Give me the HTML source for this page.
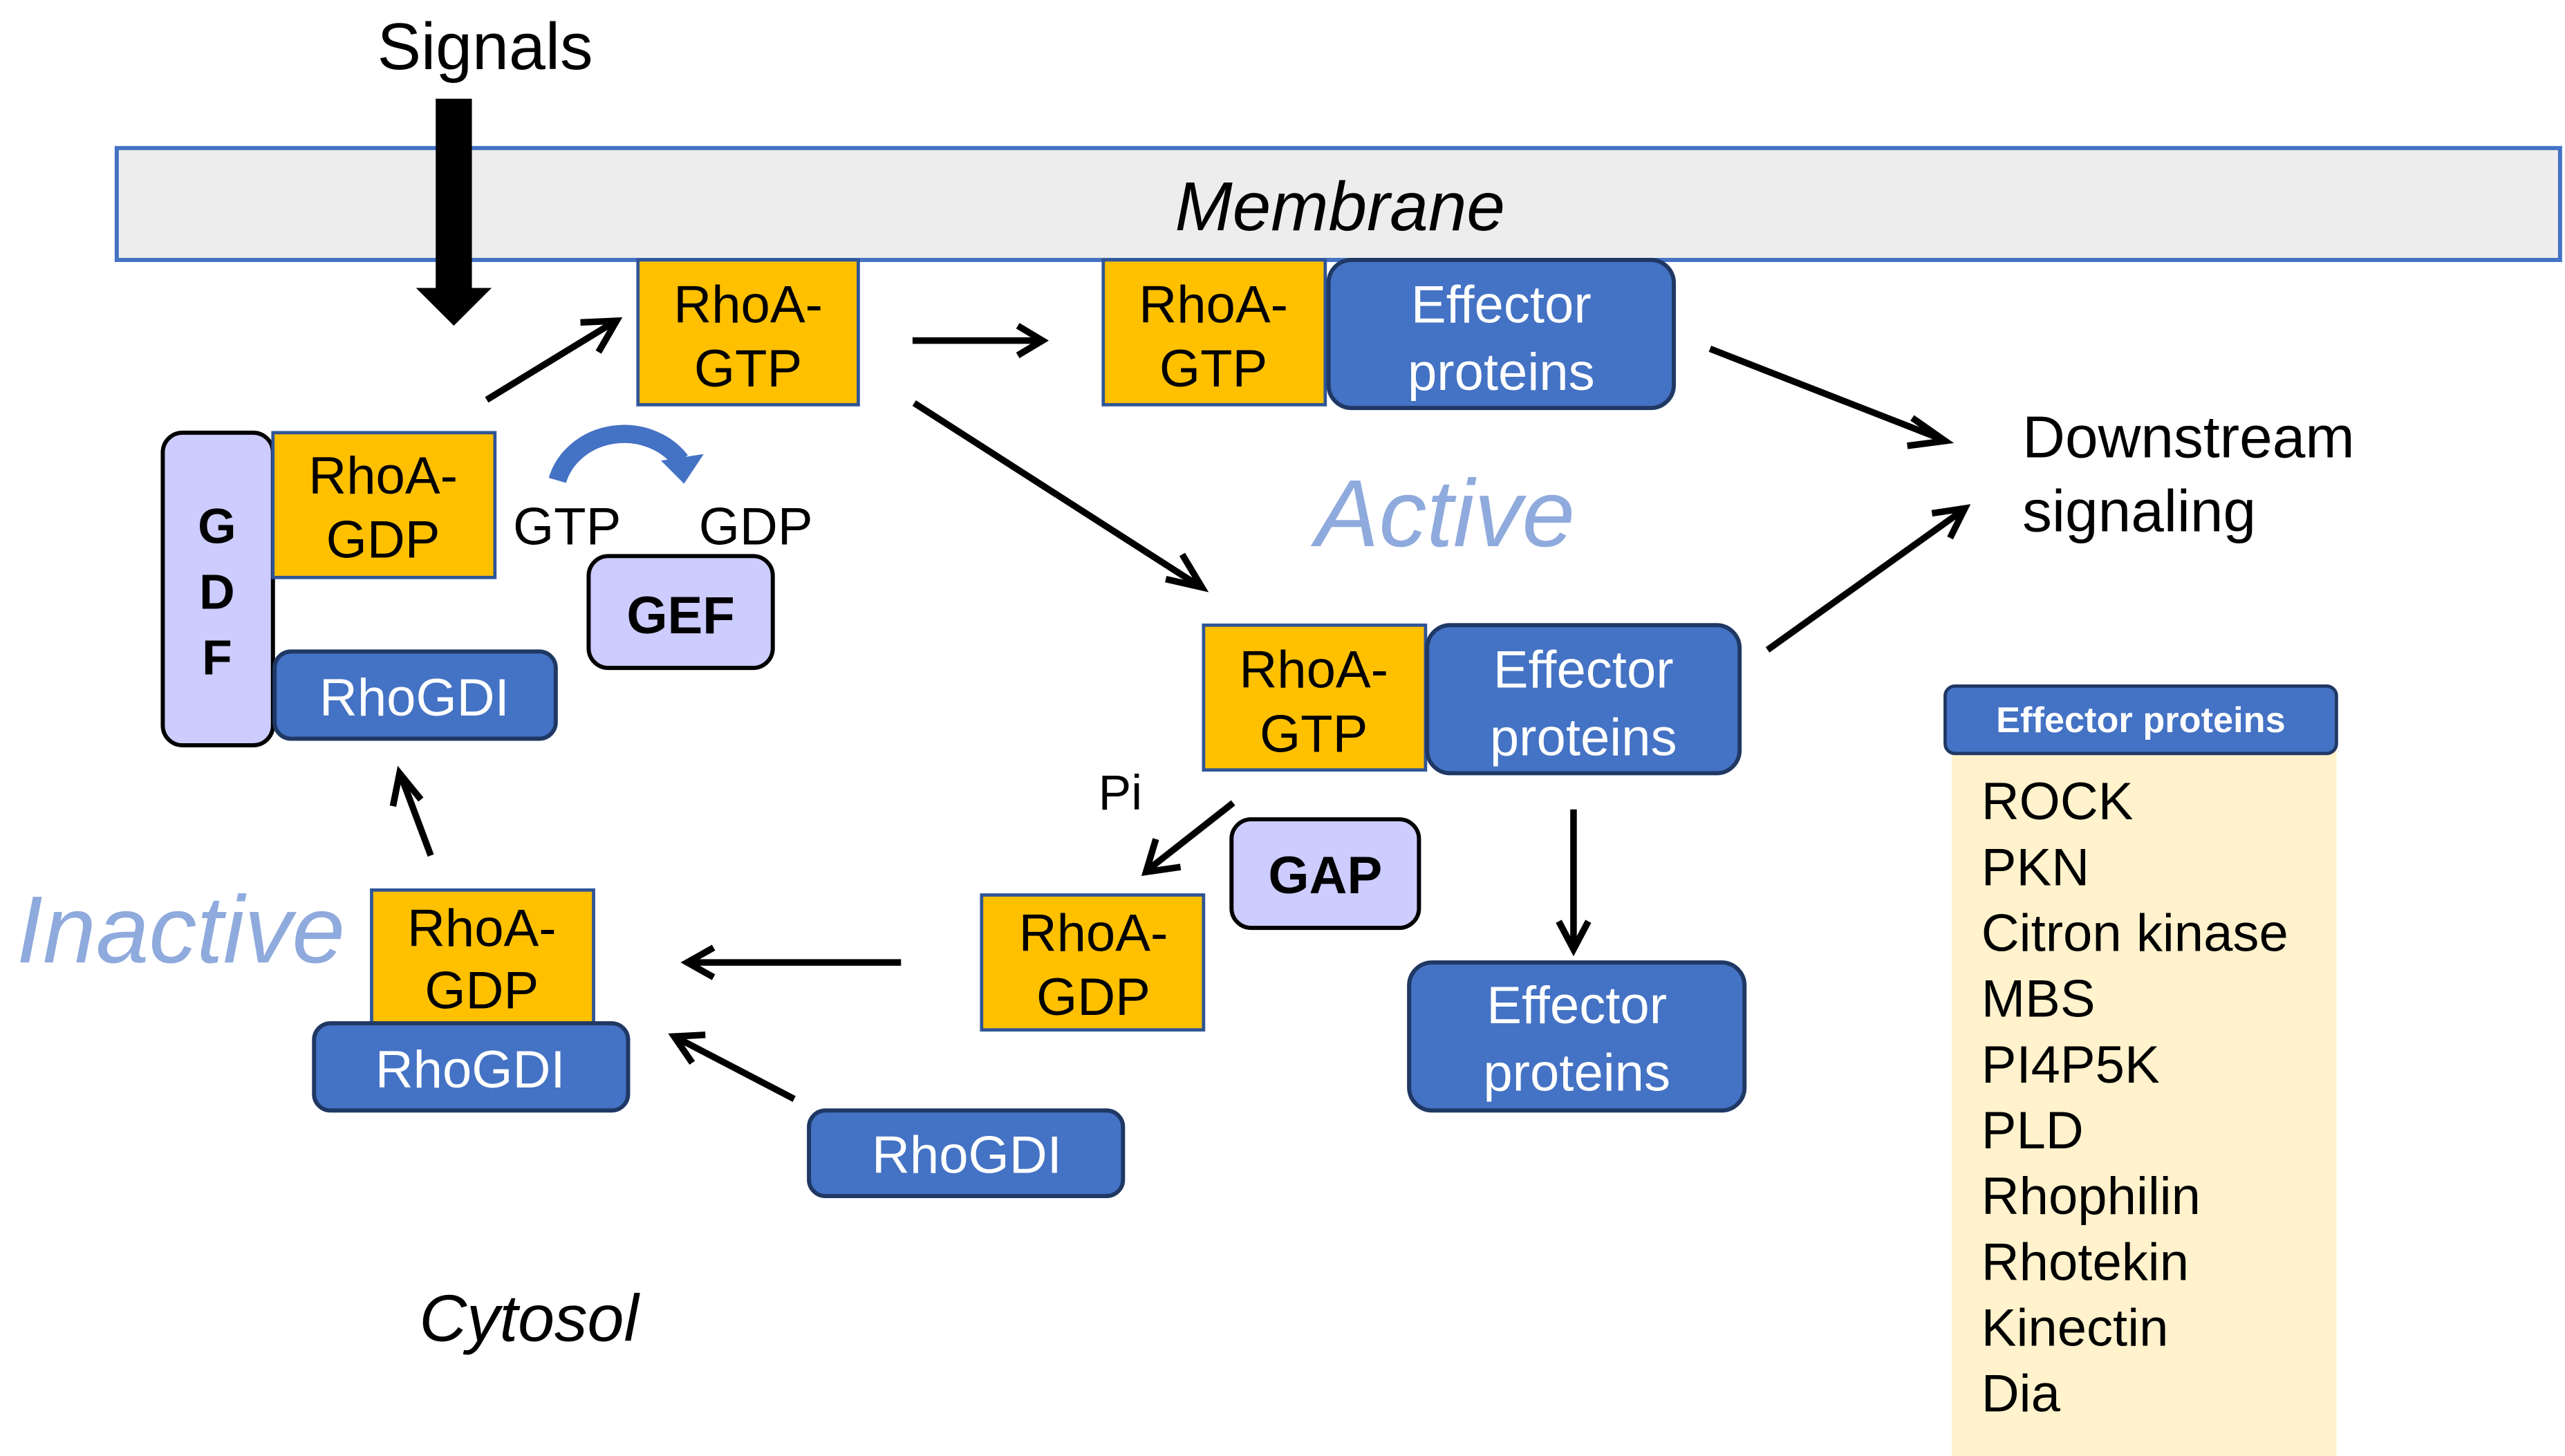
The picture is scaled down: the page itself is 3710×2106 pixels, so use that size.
<!DOCTYPE html>
<html><head><meta charset="utf-8"><style>html,body{margin:0;padding:0;background:#fff}svg{display:block}</style></head>
<body>
<svg width="3710" height="2106" viewBox="0 0 1560 885" preserveAspectRatio="none" xmlns="http://www.w3.org/2000/svg" font-family="Liberation Sans, Arial, sans-serif">
<defs>
<marker id="ah" viewBox="0 0 10 10" refX="9" refY="5" markerWidth="7" markerHeight="7" orient="auto" markerUnits="userSpaceOnUse">
</marker>
</defs>
<style>
.o{fill:#FFC000;stroke:#2F5597;stroke-width:2}
.b{fill:#4472C4;stroke:#1F3864;stroke-width:2.5}
.l{fill:#CCCCFF;stroke:#000;stroke-width:2.5}
.t{font-size:32px;text-anchor:middle;fill:#000}
.w{font-size:32px;text-anchor:middle;fill:#fff}
.a{stroke:#000;stroke-width:4;fill:none}
.h{fill:none;stroke:#000;stroke-width:4;stroke-linejoin:miter}
</style>
<!-- Signals -->
<text x="295" y="42" font-size="40" text-anchor="middle">Signals</text>
<rect x="71" y="90" width="1486" height="68" fill="#EDEDED" stroke="#4472C4" stroke-width="2.5"/>
<text x="815" y="140" font-size="42" font-style="italic" text-anchor="middle">Membrane</text>
<rect x="265" y="60" width="22" height="118" fill="#000"/>
<polygon points="253,175 299,175 276,198" fill="#000"/>

<!-- top RhoA-GTP -->
<rect class="o" x="388" y="158" width="134" height="88"/>
<text class="t" x="455" y="196">RhoA-</text><text class="t" x="455" y="235">GTP</text>
<rect class="o" x="671" y="158" width="135" height="88"/>
<text class="t" x="738" y="196">RhoA-</text><text class="t" x="738" y="235">GTP</text>
<rect class="b" x="808" y="158" width="210" height="90" rx="14"/>
<text class="w" x="913" y="196">Effector</text><text class="w" x="913" y="237">proteins</text>

<!-- arrows -->
<g class="a">
<line x1="555" y1="207" x2="633" y2="207"/><polyline class="h" points="619,198 634,207 619,216"/>
<line x1="1040" y1="212" x2="1181" y2="267"/><polyline class="h" points="1163,254 1183,268 1160,271"/>
<line x1="1075" y1="395" x2="1194" y2="310"/><polyline class="h" points="1175,312 1195,309 1186,327"/>
<line x1="556" y1="245" x2="729" y2="356"/><polyline class="h" points="709,352 731,357 719,337"/>
<line x1="296" y1="243" x2="373" y2="196"/><polyline class="h" points="353,196 375,195 364,214"/>
<line x1="957" y1="492" x2="957" y2="575"/><polyline class="h" points="948,560 957,577 966,560"/>
<line x1="750" y1="488" x2="699" y2="528"/><polyline class="h" points="703,510 697,530 718,527"/>
<line x1="548" y1="585" x2="420" y2="585"/><polyline class="h" points="434,576 418,585 434,594"/>
<line x1="262" y1="520" x2="244" y2="472"/><polyline class="h" points="239,490 243,470 256,486"/>
<line x1="483" y1="668" x2="412" y2="631"/><polyline class="h" points="421,646 410,630 429,629"/>
</g>

<text x="1230" y="278" font-size="36">Downstream</text>
<text x="1230" y="323" font-size="36">signaling</text>
<text x="800" y="332" font-size="58" font-style="italic" fill="#8FAADC">Active</text>

<!-- GDF complex -->
<rect class="l" x="99" y="263" width="67" height="190" rx="12"/>
<text x="132" y="330" font-size="30" font-weight="bold" text-anchor="middle">G</text>
<text x="132" y="370" font-size="30" font-weight="bold" text-anchor="middle">D</text>
<text x="132" y="410" font-size="30" font-weight="bold" text-anchor="middle">F</text>
<rect class="o" x="166" y="263" width="135" height="88"/>
<text class="t" x="233" y="300">RhoA-</text><text class="t" x="233" y="339">GDP</text>
<rect class="b" x="167" y="396" width="171" height="53" rx="10"/>
<text class="w" x="252" y="435">RhoGDI</text>

<!-- curved arrow -->
<path d="M339,292 A42,38 0 0 1 414,280" fill="none" stroke="#4472C4" stroke-width="11"/>
<polygon points="402,280 428,276 416,294" fill="#4472C4"/>
<text x="312" y="331" font-size="32">GTP</text>
<text x="425" y="331" font-size="32">GDP</text>
<rect class="l" x="358" y="338" width="112" height="68" rx="12"/>
<text x="414" y="385" font-size="32" font-weight="bold" text-anchor="middle">GEF</text>

<!-- middle -->
<rect class="o" x="732" y="380" width="135" height="88"/>
<text class="t" x="799" y="418">RhoA-</text><text class="t" x="799" y="457">GTP</text>
<rect class="b" x="868" y="380" width="190" height="90" rx="14"/>
<text class="w" x="963" y="418">Effector</text><text class="w" x="963" y="459">proteins</text>
<rect class="b" x="857" y="585" width="204" height="90" rx="14"/>
<text class="w" x="959" y="622">Effector</text><text class="w" x="959" y="663">proteins</text>

<text x="668" y="492" font-size="30">Pi</text>
<rect class="l" x="749" y="498" width="114" height="66" rx="12"/>
<text x="806" y="543" font-size="32" font-weight="bold" text-anchor="middle">GAP</text>
<rect class="o" x="597" y="544" width="135" height="82"/>
<text class="t" x="665" y="578">RhoA-</text><text class="t" x="665" y="617">GDP</text>

<text x="10" y="585" font-size="58" font-style="italic" fill="#8FAADC">Inactive</text>
<rect class="o" x="226" y="541" width="135" height="82"/>
<text class="t" x="293" y="575">RhoA-</text><text class="t" x="293" y="613">GDP</text>
<rect class="b" x="191" y="622" width="191" height="53" rx="10"/>
<text class="w" x="286" y="661">RhoGDI</text>
<rect class="b" x="492" y="675" width="191" height="52" rx="10"/>
<text class="w" x="588" y="713">RhoGDI</text>

<text x="255" y="815" font-size="40" font-style="italic">Cytosol</text>

<!-- list -->
<rect x="1187" y="456" width="234" height="429" fill="#FFF2CC"/>
<rect x="1183" y="417" width="238" height="41" rx="6" fill="#4472C4" stroke="#1F3864" stroke-width="2"/>
<text x="1302" y="445" font-size="22" font-weight="bold" fill="#fff" text-anchor="middle">Effector proteins</text>
<g font-size="32" fill="#000">
<text x="1205" y="498">ROCK</text>
<text x="1205" y="538">PKN</text>
<text x="1205" y="578">Citron kinase</text>
<text x="1205" y="618">MBS</text>
<text x="1205" y="658">PI4P5K</text>
<text x="1205" y="698">PLD</text>
<text x="1205" y="738">Rhophilin</text>
<text x="1205" y="778">Rhotekin</text>
<text x="1205" y="818">Kinectin</text>
<text x="1205" y="858">Dia</text>
</g>
</svg>
</body></html>
